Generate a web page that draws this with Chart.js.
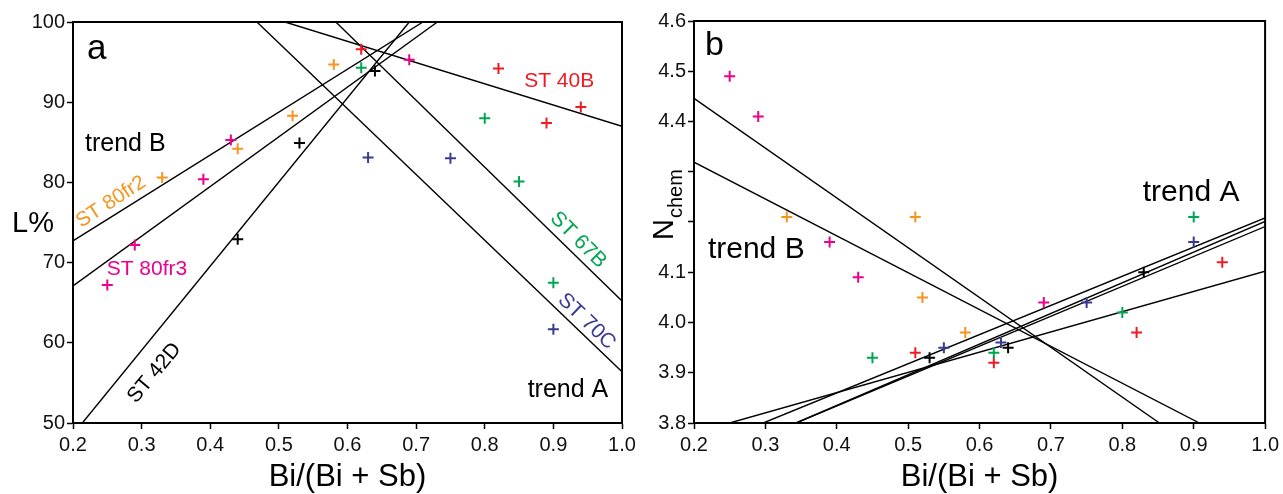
<!DOCTYPE html>
<html><head><meta charset="utf-8">
<script src="https://cdn.jsdelivr.net/npm/chart.js@4/dist/chart.umd.min.js"></script>
<style>
html,body{margin:0;padding:0;background:#fff;width:1283px;height:494px;overflow:hidden}
canvas{position:absolute;top:0}
#ca{left:0}
#cb{left:640px}
</style></head><body>
<canvas id="ca" width="640" height="494"></canvas>
<canvas id="cb" width="643" height="494"></canvas>
<script>
// ---------- tick labels ----------
const ratioTicks = [0.2,0.3,0.4,0.5,0.6,0.7,0.8,0.9,1.0];
const lTicks = [50,60,70,80,90,100];
const nTicks = [3.8,3.9,4.0,4.1,4.2,4.3,4.4,4.5,4.6];
const nTickLabels = ['3.8','3.9','4.0','4.1','','','4.4','4.5','4.6'];

// ---------- panel a : L% vs Bi/(Bi+Sb) ----------
const aST40B  = [[0.62,96.6],[0.82,94.2],[0.89,87.4],[0.94,89.4]];
const aST80fr2= [[0.33,80.6],[0.44,84.2],[0.52,88.3],[0.58,94.7]];
const aST67B  = [[0.62,94.3],[0.80,88.0],[0.85,80.1],[0.90,67.5]];
const aST70C  = [[0.63,83.1],[0.75,83.0],[0.90,61.7]];
const aST80fr3= [[0.25,67.2],[0.29,72.2],[0.39,80.4],[0.43,85.3],[0.69,95.3]];
const aST42D  = [[0.44,72.9],[0.53,84.9],[0.64,93.9]];
// fitted trend lines (end points)
const aLine40B  = [[0.509,100],[1.0,87.0]];
const aLine67B  = [[0.583,100],[1.0,65.2]];
const aLine70C  = [[0.468,100],[1.0,56.4]];
const aLine80fr2= [[0.2,72.7],[0.71,100]];
const aLine80fr3= [[0.2,67.1],[0.731,100]];
const aLine42D  = [[0.2136,50],[0.69,100]];

// ---------- panel b : Nchem vs Bi/(Bi+Sb) ----------
const bMagenta = [[0.25,4.49],[0.29,4.41],[0.39,4.16],[0.43,4.09],[0.69,4.04]];
const bOrange  = [[0.33,4.21],[0.51,4.21],[0.52,4.05],[0.58,3.98]];
const bGreen   = [[0.45,3.93],[0.62,3.94],[0.80,4.02],[0.90,4.21]];
const bRed     = [[0.51,3.94],[0.62,3.92],[0.82,3.98],[0.94,4.12]];
const bPurple  = [[0.55,3.95],[0.63,3.96],[0.75,4.04],[0.90,4.16]];
const bBlack   = [[0.53,3.93],[0.64,3.95],[0.83,4.10]];
const bLineB1 = [[0.2,4.446],[0.852,3.8]];
const bLineB2 = [[0.2,4.319],[0.908,3.8]];
const bLineA1 = [[0.25,3.8],[1.0,4.102]];
const bLineA2 = [[0.297,3.8],[1.0,4.208]];
const bLineA3 = [[0.343,3.8],[1.0,4.201]];
const bLineA4 = [[0.343,3.8],[1.0,4.191]];

const RED='#ed1c24', ORANGE='#f7941d', GREEN='#00a651', PURPLE='#3a3a95', MAGENTA='#ec008c', BLACK='#000000';
const FONT='"Liberation Sans", Arial, Helvetica, sans-serif';

const pts = a => a.map(p => ({x:p[0], y:p[1]}));
const ptSet = (data,color) => ({type:'scatter', data:pts(data), pointStyle:'cross', pointRadius:5.5, pointHoverRadius:5.5,
  borderColor:color, backgroundColor:color, borderWidth:2, showLine:false});
const lineSet = data => ({type:'line', data:pts(data), borderColor:'#000', borderWidth:1.4, pointRadius:0,
  fill:false, tension:0, showLine:true});

const decor = {
  id:'decor',
  afterDraw(chart, args, opts){
    const {ctx, chartArea:a, scales:{x,y}} = chart;
    ctx.save();
    ctx.strokeStyle='#000'; ctx.lineWidth=2;
    ctx.strokeRect(a.left, a.top, a.right-a.left, a.bottom-a.top);
    for (const t of (opts.texts||[])){
      const px = t.px!=null ? t.px : x.getPixelForValue(t.x);
      const py = t.py!=null ? t.py : y.getPixelForValue(t.y);
      ctx.save();
      ctx.translate(px,py);
      if (t.rot) ctx.rotate(t.rot*Math.PI/180);
      ctx.font = `${t.size}px ${FONT}`;
      ctx.fillStyle = t.color||'#000';
      ctx.textAlign = t.align||'left';
      ctx.textBaseline = t.base||'alphabetic';
      ctx.fillText(t.text,0,0);
      if (t.sub){
        const w = ctx.measureText(t.text).width;
        ctx.font = `${t.subSize}px ${FONT}`;
        ctx.fillText(t.sub, w+1, t.subDy);
      }
      ctx.restore();
    }
    ctx.restore();
  }
};

function xScale(){
  return {type:'linear', min:0.2, max:1.0,
    afterBuildTicks: s => { s.ticks = ratioTicks.map(v => ({value:v})); },
    afterFit: s => { s.height = 71; },
    ticks:{font:{size:20, family:FONT}, color:'#111', padding:4, maxRotation:0, autoSkip:false,
      callback: v => Number(v).toFixed(1)},
    grid:{display:true, drawOnChartArea:false, drawTicks:true, tickLength:6, tickWidth:1.5, tickColor:'#000'},
    border:{display:true, color:'#000', width:2},
    title:{display:true, text:'Bi/(Bi + Sb)', color:'#000', font:{size:31, family:FONT, lineHeight:1}, padding:{top:0,bottom:1}}
  };
}

const commonOpts = {responsive:false, animation:false, devicePixelRatio:1,
  plugins:{legend:{display:false}, tooltip:{enabled:false}}, events:[]};

new Chart(document.getElementById('ca'), {
  type:'scatter',
  data:{datasets:[
    ptSet(aST40B,RED), ptSet(aST80fr2,ORANGE), ptSet(aST67B,GREEN), ptSet(aST70C,PURPLE),
    ptSet(aST80fr3,MAGENTA), ptSet(aST42D,BLACK),
    lineSet(aLine40B), lineSet(aLine67B), lineSet(aLine70C), lineSet(aLine80fr2), lineSet(aLine80fr3), lineSet(aLine42D)
  ]},
  options:Object.assign({}, commonOpts, {
    layout:{padding:{left:0, top:22, right:18, bottom:0}},
    scales:{
      x:xScale(),
      y:{type:'linear', min:50, max:100,
        afterBuildTicks: s => { s.ticks = lTicks.map(v => ({value:v})); },
        afterFit: s => { s.width = 73; },
        ticks:{font:{size:20, family:FONT}, color:'#111', padding:2},
        grid:{display:true, drawOnChartArea:false, drawTicks:true, tickLength:6, tickWidth:1.5, tickColor:'#000'},
        border:{display:true, color:'#000', width:2}
      }
    },
    plugins:Object.assign({}, commonOpts.plugins, {decor:{texts:[
      {text:'a', x:0.2204, y:95.39, size:35},
      {text:'trend B', x:0.2175, y:83.95, size:25},
      {text:'trend A', x:0.98, y:53.28, size:25, align:'right'},
      {text:'ST 40B', x:0.8574, y:91.86, size:21, color:RED},
      {text:'ST 80fr3', x:0.249, y:68.45, size:21, color:MAGENTA},
      {text:'ST 80fr2', x:0.2554, y:77.56, size:20.5, color:ORANGE, rot:-33, align:'center', base:'middle'},
      {text:'ST 42D', x:0.3188, y:56.23, size:21, color:BLACK, rot:-50, align:'center', base:'middle'},
      {text:'ST 67B', x:0.9362, y:72.82, size:21, color:GREEN, rot:45, align:'center', base:'middle'},
      {text:'ST 70C', x:0.9485, y:62.66, size:21, color:PURPLE, rot:44, align:'center', base:'middle'},
      {text:'L%', px:12, py:232, size:29}
    ]}})
  }),
  plugins:[decor]
});

new Chart(document.getElementById('cb'), {
  type:'scatter',
  data:{datasets:[
    ptSet(bMagenta,MAGENTA), ptSet(bOrange,ORANGE), ptSet(bGreen,GREEN), ptSet(bRed,RED),
    ptSet(bPurple,PURPLE), ptSet(bBlack,BLACK),
    lineSet(bLineB1), lineSet(bLineB2), lineSet(bLineA1), lineSet(bLineA2), lineSet(bLineA3), lineSet(bLineA4)
  ]},
  options:Object.assign({}, commonOpts, {
    layout:{padding:{left:0, top:21, right:15, bottom:0}},
    scales:{
      x:xScale(),
      y:{type:'linear', min:3.8, max:4.6,
        afterBuildTicks: s => { s.ticks = nTicks.map(v => ({value:v})); },
        afterFit: s => { s.width = 54; },
        ticks:{font:{size:20, family:FONT}, color:'#111', padding:2,
          callback: (v, i) => nTickLabels[i]},
        grid:{display:true, drawOnChartArea:false, drawTicks:true, tickLength:6, tickWidth:1.5, tickColor:'#000'},
        border:{display:true, color:'#000', width:2}
      }
    },
    plugins:Object.assign({}, commonOpts.plugins, {decor:{texts:[
      {text:'b', x:0.2153, y:4.532, size:34},
      {text:'trend B', x:0.2195, y:4.129, size:30},
      {text:'trend A', x:0.8286, y:4.2427, size:30},
      {text:'N', px:33, py:240, size:29, rot:-90, sub:'chem', subSize:20, subDy:9}
    ]}})
  }),
  plugins:[decor]
});
</script>
</body></html>
